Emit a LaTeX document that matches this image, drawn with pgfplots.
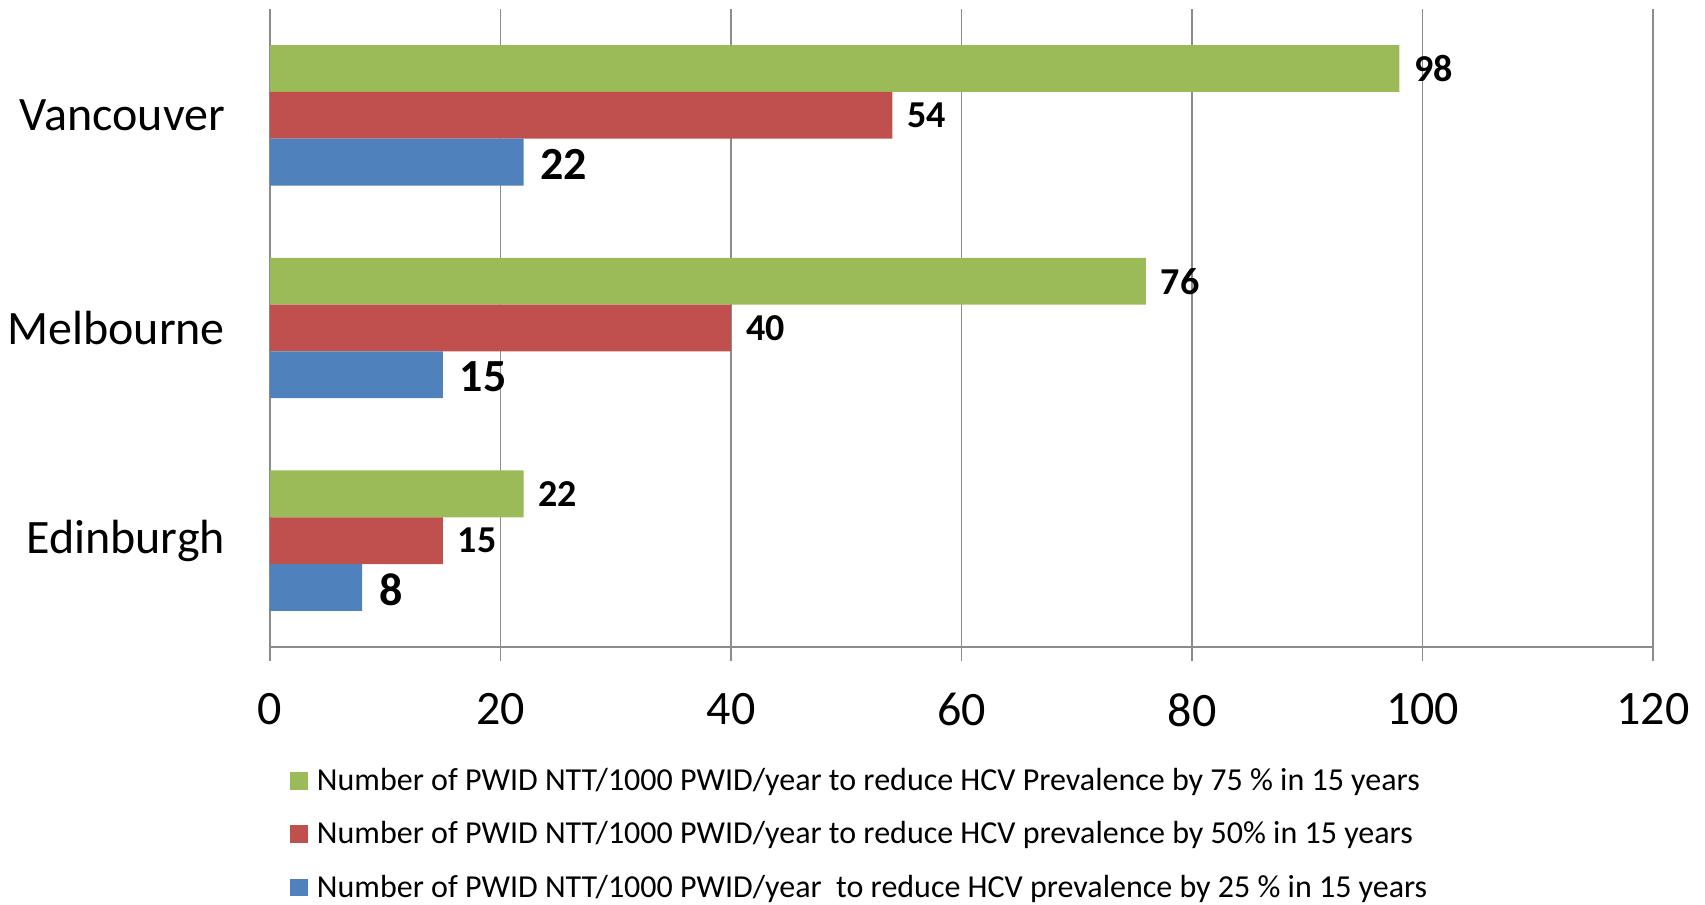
\documentclass[border=0pt]{standalone}
\usepackage{pgfplots}
\pgfplotsset{compat=1.18}
\usepackage{fontspec}
\setmainfont{Carlito}
\definecolor{cgreen}{HTML}{9BBB59}
\definecolor{cred}{HTML}{C0504D}
\definecolor{cblue}{HTML}{4F81BD}
\definecolor{cgrid}{HTML}{8C8C8C}
\begin{document}
\begin{tikzpicture}
\useasboundingbox (-135pt,-129pt) rectangle (717.5pt,323.5pt);
\begin{axis}[
  at={(0,0)}, anchor=south west,
  scale only axis,
  width=691.5pt, height=319pt,
  xbar, bar width=23.4pt,
  xmin=0, xmax=120,
  ymin=-0.5, ymax=2.5,
  xtick={0,20,...,120},
  ytick={0,1,2},
  yticklabels={Edinburgh,Melbourne,Vancouver},
  extra y ticks={-0.5,0.5,1.5,2.5},
  extra y tick labels={},
  extra y tick style={major tick length=7.5pt, tick style={cgrid, line width=0.8pt}},
  ytick style={draw=none},
  axis x line*=bottom, axis y line*=left,
  axis line style={cgrid, line width=0.9pt, -},
  xmajorgrids, major grid style={cgrid, line width=0.9pt},
  tick align=outside, major tick length=7pt,
  xtick style={cgrid, line width=0.8pt},
  /pgf/number format/assume math mode=true,
  xticklabel style={font=\fontsize{24}{28}\selectfont, yshift=-12.7pt},
  yticklabel style={font=\fontsize{24}{28}\selectfont, xshift=-12pt},
  nodes near coords,
  every node near coord/.append style={anchor=west, font=\bfseries\fontsize{19}{22}\selectfont, black, xshift=4pt},
  legend style={at={(axis description cs:0,0)}, anchor=north west, xshift=7pt, yshift=-56.5pt,
    draw=none, fill=none, row sep=10pt, font=\fontsize{16}{19}\selectfont,
    cells={anchor=west}},
  legend image code/.code={\fill[#1] (0pt,-4.4pt) rectangle (8.8pt,4.4pt);},
]
\addplot[fill=cgreen, draw=none, bar shift=23.4pt] coordinates {(22,0) (76,1) (98,2)};
\addlegendentry{\hspace{2.5pt}Number of PWID NTT/1000 PWID/year to reduce HCV Prevalence by 75 \% in 15 years}
\addplot[fill=cred, draw=none, bar shift=0pt] coordinates {(15,0) (40,1) (54,2)};
\addlegendentry{\hspace{2.5pt}Number of PWID NTT/1000 PWID/year to reduce HCV prevalence by 50\% in 15 years}
\addplot[fill=cblue, draw=none, bar shift=-23.4pt, every node near coord/.append style={font=\bfseries\fontsize{23}{26}\selectfont, xshift=1pt, yshift=-1pt}] coordinates {(8,0) (15,1) (22,2)};
\addlegendentry{\hspace{2.5pt}Number of PWID NTT/1000 PWID/year\ \ to reduce HCV prevalence by 25 \% in 15 years}
\end{axis}
\end{tikzpicture}
\end{document}
